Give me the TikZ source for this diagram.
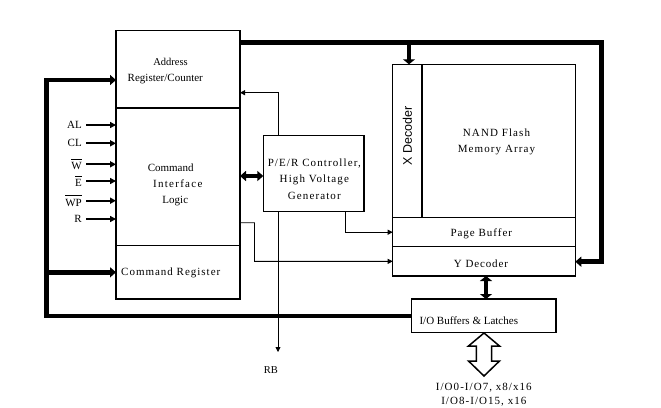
\documentclass[tikz,border=0pt]{standalone}
\usepackage{fontspec}
\setmainfont{Liberation Serif}
\newfontfamily\xdf{Liberation Sans}
\usetikzlibrary{arrows.meta,calc}
\newcommand{\obar}[1]{\ensuremath{\overline{\vphantom{\rule{0pt}{9.5pt}}\mbox{#1}}}}
\newcommand{\lsp}[1]{\addfontfeature{LetterSpace=#1}}
\begin{document}
\begin{tikzpicture}[x=1pt,y=-1pt,
  box/.style={draw, line width=1.3pt, inner sep=0pt, outer sep=0pt, anchor=north west},
  txt/.style={inner sep=0pt, font=\fontsize{11}{14}\selectfont},
  bus/.style={line width=4.5pt, line join=miter},
  wire/.style={line width=0.8pt},
  sigw/.style={line width=2pt},
  wtip/.tip={Triangle[width=5pt,length=5pt]},
  stip/.tip={Triangle[width=6pt,length=6pt]},
  btip/.tip={Triangle[width=10pt,length=6pt]},
  dtip/.tip={Triangle[width=12pt,length=5pt]}
]
\useasboundingbox (0,0) rectangle (661,407);

% boxes
\node[box, minimum width=124pt, minimum height=77.3pt] (addr) at (116,30.7) {};
\node[box, minimum width=124pt, minimum height=137.7pt] (cil) at (116,108) {};
\node[box, minimum width=124pt, minimum height=53.3pt] (creg) at (116,245.7) {};
\node[box, minimum width=100.7pt, minimum height=76pt] (per) at (263.3,135.7) {};
\node[box, minimum width=29.3pt, minimum height=153.4pt] (xdec) at (392.7,64.3) {};
\node[box, minimum width=153.3pt, minimum height=153.4pt] (mem) at (422,64.3) {};
\node[box, minimum width=182.6pt, minimum height=29pt] (pbuf) at (392.7,217.7) {};
\node[box, minimum width=182.6pt, minimum height=29.3pt] (ydec) at (392.7,246.7) {};
\node[box, minimum width=144.3pt, minimum height=33.7pt] (iob) at (411.7,299) {};

% texts in boxes
\node[txt, font=\fontsize{10.5}{14}\selectfont] (ta1) at (170.5,62.3) {Address};
\node[txt] (ta2) at (165.3,78.7) {Register/Counter};
\node[txt] (tc1) at (170.7,167.3) {Command};
\node[txt] (tc2) at (177.8,183.3) {\lsp{11.5}Interface};
\node[txt] (tc3) at (175.3,200.7) {Logic};
\node[txt, anchor=west] (tcr) at (121,272.7) {\lsp{9}Command Register};
\node[txt, align=center, font=\fontsize{11}{16.3}\selectfont\lsp{10}] (tper) at (314.3,179) {P/E/R Controller,\\High Voltage\\Generator};
\node[inner sep=0pt, rotate=90, font=\fontsize{12.5}{14}\selectfont\xdf] (txd) at (407.3,136) {X Decoder};
\node[txt, align=center, font=\fontsize{11}{15.7}\selectfont\lsp{10}] (tmem) at (496.5,142.2) {NAND Flash\\Memory Array};
\node[txt] (tpb) at (481.3,234) {\lsp{9}Page Buffer};
\node[txt] (tyd) at (481,264) {\lsp{8}Y Decoder};
\node[txt] (tio) at (468.8,321) {I/O Buffers \& Latches};
\node[txt, font=\fontsize{10.5}{14}\selectfont] (rb) at (270.8,370) {RB};
\node[txt, align=center, font=\fontsize{11}{13.7}\selectfont\lsp{9.5}] (tio2) at (483.8,395) {I/O0-I/O7, x8/x16\\I/O8-I/O15, x16};

% control signals
\foreach \n/\t/\yy in {sAL/AL/125, sCL/CL/143.3, sW/\obar{W}/164.3, sE/\obar{E}/181, sWP/\obar{WP}/200.7, sR/R/219}{
  \node[txt, anchor=east, inner sep=2pt] (\n) at (84,\yy) {\t};
  \coordinate (\n c) at (86,\yy);
  \draw[sigw,-stip] (\n c) -- (\n c -| cil.west);
}

% left bus
\coordinate (bl1) at (46.5,80);
\coordinate (bl2) at (46.5,316);
\coordinate (bl3) at (46.5,272.3);
\draw[bus,btip-] (bl1 -| addr.west) -- (bl1) -- (bl2) -- (bl2 -| iob.west);
\draw[bus,-btip] (bl3) -- (bl3 -| creg.west);

% top bus
\coordinate (bt1) at (240,42.7);
\coordinate (bt2) at (601.7,42.7);
\coordinate (bt3) at (601.7,261.7);
\coordinate (bx) at (409,42.7);
\draw[bus,-btip] (bt1 -| addr.east) -- (bt2) -- (bt3) -- (bt3 -| ydec.east);
\draw[bus,-dtip] (bx) -- (bx |- xdec.north);

% CIL <-> PER
\coordinate (cp) at (240,176);
\draw[bus,btip-btip] (cp -| cil.east) -- (cp -| per.west);

% PER -> address register, PER -> RB
\coordinate (pr1) at (278,92.7);
\coordinate (rbend) at (278,352);
\draw[wire,-wtip] (pr1 |- per.north) -- (pr1) -- (pr1 -| addr.east);
\draw[wire,-wtip] (pr1 |- per.south) -- (rbend);

% PER -> page buffer
\coordinate (pp) at (345,232.2);
\draw[wire,-wtip] (pp |- per.south) -- (pp) -- (pbuf.west);

% CIL -> Y decoder
\coordinate (cy1) at (254.5,222.7);
\coordinate (cy2) at (254.5,261.35);
\draw[wire,-wtip] (cy1 -| cil.east) -- (cy1) -- (cy2) -- (ydec.west);

% Y decoder <-> IO buffers
\coordinate (yi) at (486,280);
\draw[bus,dtip-dtip] (yi |- ydec.south) -- (yi |- iob.north);

% hollow I/O arrow
\draw[line width=1.5pt, line join=miter] (484,333) -- (499.5,346) -- (491.7,346) -- (491.7,361) -- (499.5,361) -- (484,376) -- (468.5,361) -- (476.3,361) -- (476.3,346) -- (468.5,346) -- cycle;
\end{tikzpicture}
\end{document}
